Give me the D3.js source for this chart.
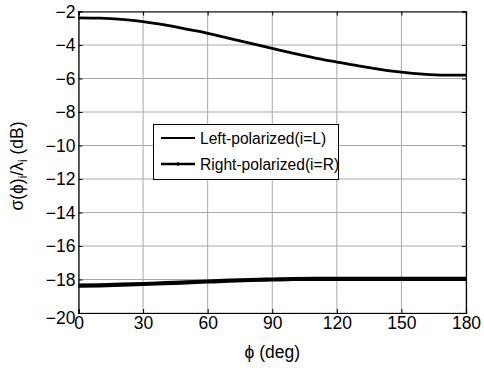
<!DOCTYPE html>
<html>
<head>
<meta charset="utf-8">
<script src="https://d3js.org/d3.v7.min.js"></script>
<style>
body { margin: 0; background: #fff; }
text { font-family: "Liberation Sans", Arial, sans-serif; }
</style>
</head>
<body>
<script>
// chart values
var phi = [0, 10, 20, 30, 40, 50, 60, 70, 80, 90, 100, 110, 120, 130, 140, 150, 160, 170, 180];
var leftPol = [-2.38, -2.40, -2.47, -2.6, -2.8, -3.05, -3.3, -3.6, -3.9, -4.2, -4.5, -4.78, -5.02, -5.25, -5.45, -5.62, -5.74, -5.8, -5.8];
var rightPol = [-18.37, -18.35, -18.31, -18.27, -18.22, -18.17, -18.12, -18.07, -18.03, -18.0, -17.97, -17.96, -17.96, -17.96, -17.96, -17.96, -17.96, -17.96, -17.96];
var xTicks = [0, 30, 60, 90, 120, 150, 180];
var yTicks = [-2, -4, -6, -8, -10, -12, -14, -16, -18, -20];
var legendNames = ["Left-polarized(i=L)", "Right-polarized(i=R)"];

var W = 484, H = 368;
var m = {left: 78.5, right: 18, top: 11.5, bottom: 55};

var svg = d3.select("body").append("svg").attr("width", W).attr("height", H);

var x = d3.scaleLinear().domain([0, 180]).range([m.left, W - m.right]);
var y = d3.scaleLinear().domain([-20, -2]).range([H - m.bottom, m.top]);

// grid
svg.selectAll(".gx").data(xTicks).enter().append("line")
  .attr("x1", d => x(d)).attr("x2", d => x(d))
  .attr("y1", y(-2)).attr("y2", y(-20))
  .attr("stroke", "#a8a8a8").attr("stroke-width", 1);
svg.selectAll(".gy").data(yTicks).enter().append("line")
  .attr("x1", x(0)).attr("x2", x(180))
  .attr("y1", d => y(d)).attr("y2", d => y(d))
  .attr("stroke", "#a8a8a8").attr("stroke-width", 1);

// axes
var xAxis = d3.axisBottom(x).tickValues(xTicks).tickSize(-4).tickPadding(4);
var yAxis = d3.axisLeft(y).tickValues(yTicks).tickSize(-4).tickPadding(3);

var gx = svg.append("g").attr("transform", "translate(0," + y(-20) + ")").call(xAxis);
var gy = svg.append("g").attr("transform", "translate(" + x(0) + ",0)").call(yAxis);
svg.append("g").attr("transform", "translate(0," + y(-2) + ")")
  .call(d3.axisTop(x).tickValues(xTicks).tickSize(-4).tickFormat(""));
svg.append("g").attr("transform", "translate(" + x(180) + ",0)")
  .call(d3.axisRight(y).tickValues(yTicks).tickSize(-4).tickFormat(""));

svg.selectAll(".domain").attr("stroke", "#000").attr("stroke-width", 1.2);
svg.selectAll(".tick line").attr("stroke", "#000");
svg.selectAll(".tick text").attr("font-size", 17.5).attr("fill", "#000")
  .style("font-family", "'Liberation Sans', Arial, sans-serif");
// lowest y label sits a bit below the corner, as in the reference
gy.selectAll(".tick").filter(d => d === -20).select("text").attr("dy", "0.62em");

// lines
var line = d3.line().x((d, i) => x(phi[i])).y(d => y(d)).curve(d3.curveMonotoneX);
svg.append("path").datum(leftPol).attr("d", line)
  .attr("fill", "none").attr("stroke", "#000").attr("stroke-width", 2.8);
svg.append("path").datum(rightPol).attr("d", line)
  .attr("fill", "none").attr("stroke", "#000").attr("stroke-width", 4.2);

// legend
var lg = svg.append("g");
lg.append("rect").attr("x", 153.5).attr("y", 124.5).attr("width", 185).attr("height", 55)
  .attr("fill", "#fff").attr("stroke", "#000").attr("stroke-width", 1);
legendNames.forEach(function (name, i) {
  var ly = 138 + i * 26;
  lg.append("line").attr("x1", 161).attr("x2", 195).attr("y1", ly).attr("y2", ly)
    .attr("stroke", "#000").attr("stroke-width", i === 0 ? 2 : 2.4);
  if (i === 1) lg.append("circle").attr("cx", 178).attr("cy", ly).attr("r", 1.8).attr("fill", "#000");
  lg.append("text").attr("x", 200).attr("y", ly + 6).attr("font-size", 15.6).text(name);
});

// axis labels
svg.append("text").attr("x", (x(0) + x(180)) / 2).attr("y", 358)
  .attr("text-anchor", "middle").attr("font-size", 17.5).text("\u03d5 (deg)");

var yl = svg.append("text")
  .attr("transform", "translate(23," + 166 + ") rotate(-90)")
  .attr("text-anchor", "middle").attr("font-size", 17.5);
yl.append("tspan").text("\u03c3(\u03d5)");
yl.append("tspan").attr("font-size", 12).attr("dy", 4).text("i");
yl.append("tspan").attr("dy", -4).text("/\u03bb");
yl.append("tspan").attr("font-size", 12).attr("dy", 4).text("i");
yl.append("tspan").attr("dy", -4).text(" (dB)");
</script>
</body>
</html>
